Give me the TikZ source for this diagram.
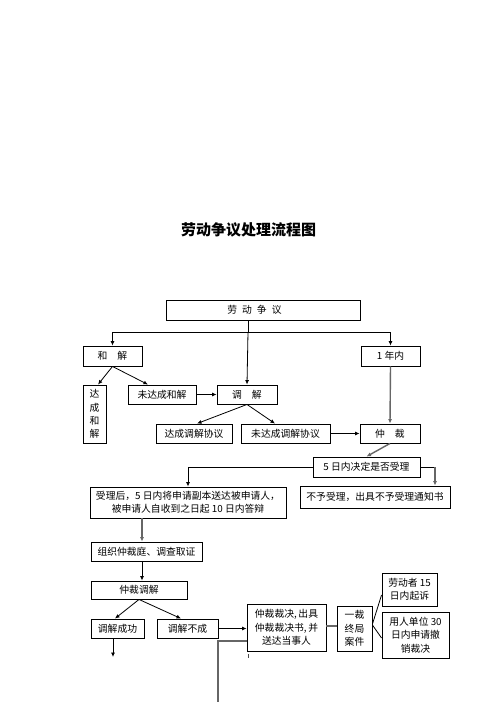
\documentclass[tikz,border=0pt]{standalone}
\usepackage{fontspec}
\setmainfont{Noto Sans CJK SC}
\usetikzlibrary{arrows.meta,calc}
\begin{document}
\begin{tikzpicture}[x=1pt,y=-1pt,
 box/.style={draw, line width=0.9pt, inner sep=0pt, align=center, font=\fontsize{9.8}{13.3}\selectfont},
 arr/.style={-{Latex[length=4.5pt,width=4pt]}, line width=0.8pt},
 ln/.style={line width=0.8pt},
 gr/.style={draw=gray!80!black, line width=1.4pt},
 grarr/.style={gr, -{Latex[length=4.5pt,width=4pt]}}]
\useasboundingbox (0,0) rectangle (496,702);
\fill[white] (0,0) rectangle (496,702);

\node[font=\fontsize{15}{15}\selectfont\bfseries] (title) at (248.5,230) {劳动争议处理流程图};

\node[box, minimum width=194pt, minimum height=20pt] (dispute) at (263,310) {劳\hspace{5pt}动\hspace{5pt}争\hspace{5pt}议\hspace*{17pt}};
\node[box, minimum width=59pt, minimum height=20pt] (hejie) at (112.5,356) {和\hspace{10pt}解};
\node[box, minimum width=59pt, minimum height=20pt] (year) at (390.5,356) {1 年内};
\node[box, minimum width=23pt, minimum height=58pt] (dacheng) at (94.5,414) {达\\成\\和\\解};
\node[box, minimum width=68pt, minimum height=19pt] (weidacheng) at (162,394.5) {未达成和解};
\node[box, minimum width=60pt, minimum height=19pt] (tiaojie) at (247,394.5) {调\hspace{10pt}解};
\node[box, minimum width=76pt, minimum height=19pt] (dachengtj) at (194,433.5) {达成调解协议};
\node[box, minimum width=89pt, minimum height=19pt] (weidachengtj) at (285.5,433.5) {未达成调解协议};
\node[box, minimum width=60pt, minimum height=19pt] (zhongcai) at (390,433.5) {仲\hspace{10pt}裁};
\node[box, minimum width=107pt, minimum height=20pt] (wuri) at (366.5,467) {5 日内决定是否受理};
\node[box, minimum width=196pt, minimum height=31pt, font=\fontsize{9.8}{12.5}\selectfont] (shouli) at (188,502.5) {受理后，5 日内将申请副本送达被申请人，\\被申请人自收到之日起 10 日内答辩};
\node[box, minimum width=150pt, minimum height=22pt] (buyu) at (375,497) {不予受理，出具不予受理通知书};
\node[box, minimum width=111pt, minimum height=19pt] (zuzhi) at (146.5,551.5) {组织仲裁庭、调查取证};
\node[box, minimum width=96pt, minimum height=18pt] (tjcj) at (139,590) {仲裁调解};
\node[box, minimum width=53pt, minimum height=19pt] (success) at (117.5,628.5) {调解成功};
\node[box, minimum width=61pt, minimum height=19pt] (fail) at (187.5,628.5) {调解不成};
\node[box, minimum width=79pt, minimum height=47pt] (caijue) at (286.5,627.5) {仲裁裁决,\,出具\\仲裁裁决书,\,并\\送达当事人};
\node[box, minimum width=35pt, minimum height=45pt] (yicai) at (354.5,628.5) {一裁\\终局\\案件};
\node[box, minimum width=55pt, minimum height=33pt] (worker) at (409.5,589.5) {劳动者 15\\日内起诉};
\node[box, minimum width=67pt, minimum height=46pt] (employer) at (415.5,635) {用人单位 30\\日内申请撤\\销裁决};

% top connectors
\coordinate (hl) at (248,332);
\draw[ln] (dispute.south -| hl) -- (hl);
\draw[ln] (hejie.north |- hl) -- (year.north |- hl);
\draw[arr] (hejie.north |- hl) -- (hejie.north);
\draw[arr] (year.north |- hl) -- (year.north);
\draw[arr] (hl) -- (tiaojie.north);
\draw[arr] (hejie.south) -- (dacheng.north -| 98,0);
\draw[arr] (hejie.south) -- (weidacheng.north -| 148,0);
\draw[arr] (weidacheng.east) -- (tiaojie.west);
\draw[arr] (tiaojie.south) -- (dachengtj.north -| 197,0);
\draw[arr] (tiaojie.south) -- (weidachengtj.north -| 275,0);
\draw[arr] (weidachengtj.east) -- (zhongcai.west);
\draw[grarr] (year.south) -- (zhongcai.north);
\draw[grarr] (zhongcai.south) -- (wuri.north);

% acceptance
\draw[arr] (wuri.west) -| (shouli.north);
\draw[ln] (wuri.east) -- (wuri.east -| 435,0);
\draw[grarr] (wuri.east -| 435,0) -- (buyu.north -| 435,0);
\draw[grarr] (shouli.south -| 142,0) -- (zuzhi.north -| 142,0);
\draw[arr] (zuzhi.south -| 142,0) -- (tjcj.north -| 142,0);
\draw[arr] (tjcj.south) -- (success.north -| 115,0);
\draw[arr] (tjcj.south) -- (fail.north -| 181,0);
\coordinate (succend) at (113,657);
\draw[arr] (success.south -| succend) -- (succend);
\draw[arr] (fail.east) -- (caijue.west |- fail.east);
\coordinate (gcorner) at (218,641);
\coordinate (gend) at (218,702);
\draw[gr] (caijue.west |- gcorner) -- (gcorner) -- (gend);
\draw[ln, draw=black!70] (248,654) -- (248,658);
\draw[gr, line width=1.1pt] (caijue.east |- 0,626) -- (yicai.west |- 0,626);
\draw[ln] (yicai.east |- 0,624) -- (worker.west |- 0,595);
\draw[ln] (yicai.east |- 0,625) -- (employer.west |- 0,638);
\end{tikzpicture}
\end{document}
